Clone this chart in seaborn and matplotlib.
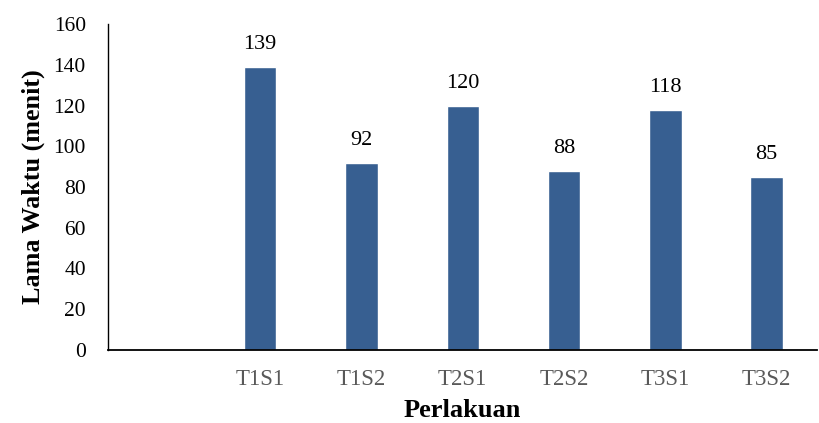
import pandas as pd
import matplotlib.pyplot as plt
import seaborn as sns

# Chart data
categories = ["", "T1S1", "T1S2", "T2S1", "T2S2", "T3S1", "T3S2"]
perlakuan = ["T1S1", "T1S2", "T2S1", "T2S2", "T3S1", "T3S2"]
lama_waktu = [139, 92, 120, 88, 118, 85]

df = pd.DataFrame({"Perlakuan": perlakuan, "Lama": lama_waktu})

sns.set_style("white")
plt.rcParams["font.family"] = ["Liberation Serif", "DejaVu Serif"]
plt.rcParams["text.color"] = "black"

fig = plt.figure(figsize=(8.19, 4.23), dpi=100)
ax = fig.add_axes([0.132, 0.173, 0.866, 0.770])

sns.barplot(data=df, x="Perlakuan", y="Lama", order=categories,
            color="#375F91", saturation=1, width=0.32, ax=ax)

# value labels above bars
for c in ax.containers:
    ax.bar_label(c, fmt="%d", padding=9, fontsize=16, color="black")

ax.set_ylim(0, 160)
ax.set_yticks(range(0, 161, 20))
ax.set_xlim(-0.5, len(categories) - 0.5)
ax.set_xlabel("Perlakuan", fontsize=19, fontweight="bold", labelpad=6, color="black")
ax.set_ylabel("Lama Waktu (menit)", fontsize=18.8, fontweight="bold", labelpad=6, color="black")
ax.tick_params(axis="y", labelsize=15.5, length=0, pad=16, labelcolor="black")
ax.tick_params(axis="x", labelsize=16.5, length=0, pad=14, labelcolor="#595959")

sns.despine(ax=ax, top=True, right=True)
ax.spines["left"].set_color("black")
ax.spines["bottom"].set_color("black")
ax.spines["left"].set_linewidth(1.0)
ax.spines["bottom"].set_linewidth(1.3)
ax.grid(False)

fig.savefig("out.png", dpi=100)
